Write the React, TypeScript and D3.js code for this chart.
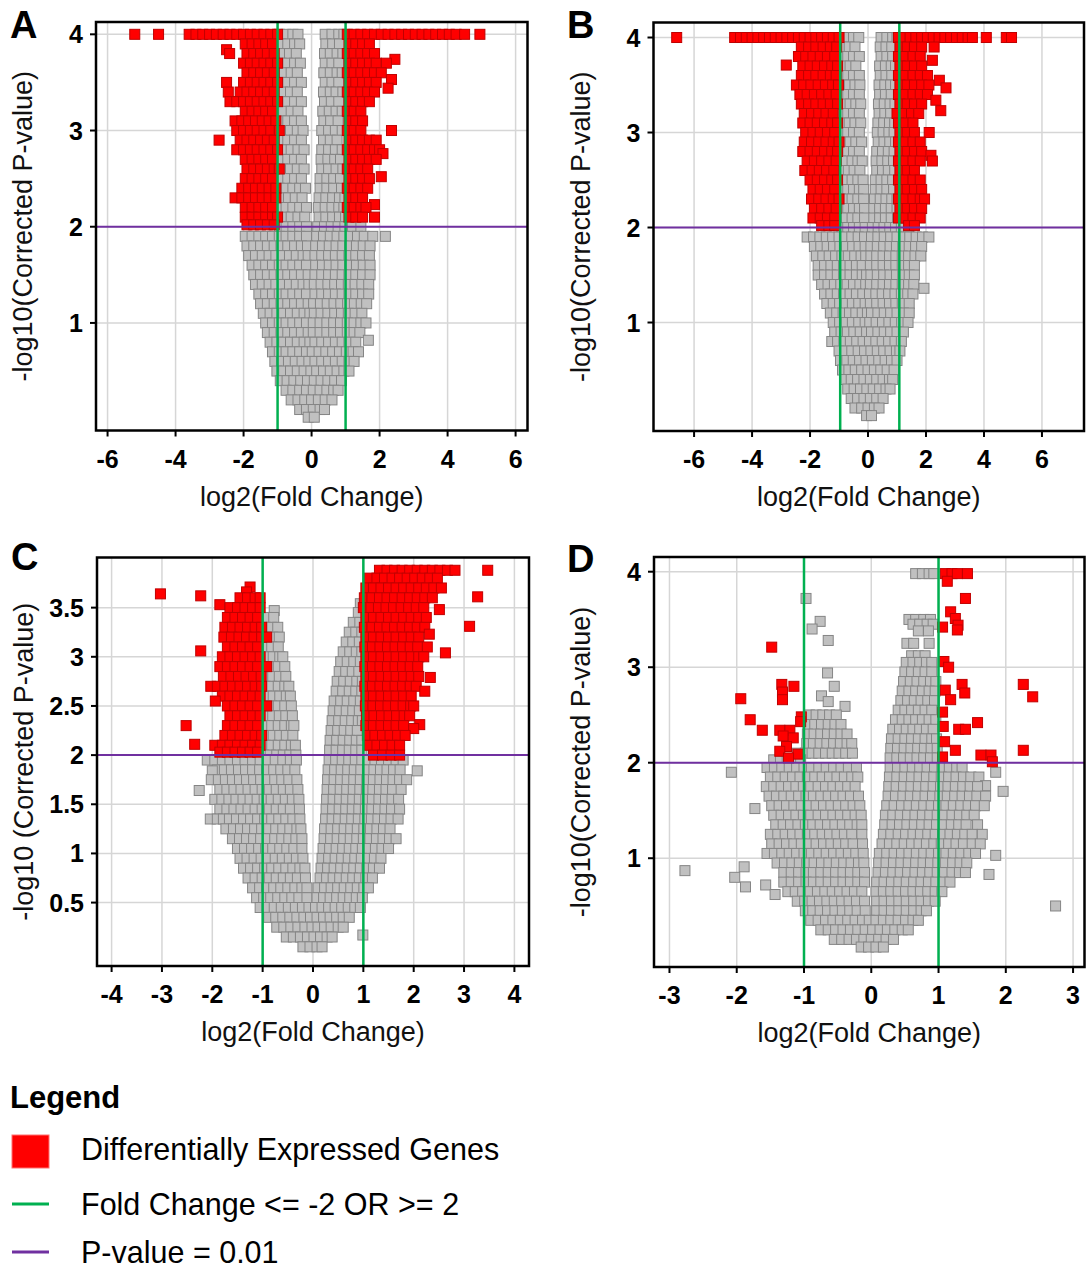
import * as d3 from "d3";

// each row: [y, x1, x2, ...]
type Row = number[];

const grayA: Row[] = [
  [4.0, -0.95, -0.75, -0.55, -0.4, 0.4, 0.6, 0.8, 0.95],
  [3.9, -0.9, -0.7, -0.5, -0.35, 0.42, 0.62, 0.82],
  [3.8, -0.85, -0.65, -0.45, 0.38, 0.55, 0.75, 0.92],
  [3.7, -0.9, -0.7, -0.5, -0.33, 0.4, 0.6, 0.8],
  [3.6, -0.8, -0.6, -0.42, 0.36, 0.55, 0.75, 0.9],
  [3.5, -0.9, -0.7, -0.5, -0.3, 0.4, 0.6, 0.8],
  [3.4, -0.85, -0.62, -0.42, 0.35, 0.55, 0.72, 0.92],
  [3.3, -0.9, -0.7, -0.5, -0.3, 0.38, 0.58, 0.8],
  [3.2, -0.82, -0.6, -0.4, 0.33, 0.52, 0.72, 0.9],
  [3.1, -0.9, -0.7, -0.5, -0.3, 0.36, 0.56, 0.78],
  [3.0, -0.85, -0.62, -0.42, -0.25, 0.3, 0.5, 0.7, 0.9],
  [2.9, -0.9, -0.7, -0.5, -0.3, 0.35, 0.55, 0.75],
  [2.8, -0.82, -0.6, -0.4, -0.22, 0.3, 0.5, 0.7, 0.9],
  [2.7, -0.92, -0.7, -0.5, -0.3, 0.28, 0.48, 0.68, 0.85],
  [2.6, -0.85, -0.62, -0.42, -0.22, 0.3, 0.5, 0.72, 0.92],
  [2.5, -0.9, -0.7, -0.5, -0.3, 0.25, 0.45, 0.65, 0.85],
  [2.4, -0.95, -0.75, -0.55, -0.35, -0.18, 0.25, 0.45, 0.65, 0.88],
  [2.3, -0.88, -0.68, -0.48, -0.28, 0.22, 0.42, 0.62, 0.82, 0.98],
  [2.2, -0.95, -0.75, -0.55, -0.35, -0.15, 0.2, 0.4, 0.6, 0.8, 0.95],
  [2.1, -1.0, -0.8, -0.6, -0.4, -0.2, 0.22, 0.42, 0.62, 0.82, 1.0],
  [2.0, -0.95, -0.75, -0.55, -0.35, -0.15, 0.18, 0.38, 0.58, 0.78, 0.98, 1.2, 1.45],
  [1.9, -1.95, -1.75, -1.55, -1.35, -1.15, -0.95, -0.75, -0.55, -0.35, -0.15, 0.15, 0.35, 0.55, 0.75, 0.95, 1.15, 1.35, 1.55, 1.8, 2.17],
  [1.8, -1.9, -1.7, -1.5, -1.3, -1.1, -0.9, -0.7, -0.5, -0.3, -0.12, 0.12, 0.32, 0.52, 0.72, 0.92, 1.12, 1.32, 1.52, 1.72],
  [1.7, -1.85, -1.65, -1.45, -1.25, -1.05, -0.85, -0.65, -0.45, -0.25, -0.1, 0.1, 0.3, 0.5, 0.7, 0.9, 1.1, 1.3, 1.5, 1.7],
  [1.6, -1.75, -1.55, -1.35, -1.15, -0.95, -0.75, -0.55, -0.35, -0.15, 0.12, 0.32, 0.52, 0.72, 0.92, 1.12, 1.32, 1.52, 1.72],
  [1.5, -1.7, -1.5, -1.3, -1.1, -0.9, -0.7, -0.5, -0.3, -0.1, 0.1, 0.3, 0.5, 0.7, 0.9, 1.1, 1.3, 1.5, 1.72],
  [1.4, -1.65, -1.45, -1.25, -1.05, -0.85, -0.65, -0.45, -0.25, -0.08, 0.08, 0.28, 0.48, 0.68, 0.88, 1.08, 1.28, 1.48, 1.68],
  [1.3, -1.55, -1.35, -1.15, -0.95, -0.75, -0.55, -0.35, -0.15, 0.1, 0.3, 0.5, 0.7, 0.9, 1.1, 1.3, 1.5, 1.68],
  [1.2, -1.5, -1.3, -1.1, -0.9, -0.7, -0.5, -0.3, -0.1, 0.06, 0.26, 0.46, 0.66, 0.86, 1.06, 1.26, 1.46, 1.62],
  [1.1, -1.42, -1.22, -1.02, -0.82, -0.62, -0.42, -0.22, -0.05, 0.08, 0.28, 0.48, 0.68, 0.88, 1.08, 1.28, 1.48],
  [1.0, -1.35, -1.15, -0.95, -0.75, -0.55, -0.35, -0.15, 0.05, 0.25, 0.45, 0.65, 0.85, 1.05, 1.25, 1.45, 1.6],
  [0.9, -1.3, -1.1, -0.9, -0.7, -0.5, -0.3, -0.1, 0.05, 0.25, 0.45, 0.65, 0.85, 1.05, 1.25, 1.42],
  [0.82, 1.67],
  [0.8, -1.22, -1.02, -0.82, -0.62, -0.42, -0.22, -0.05, 0.1, 0.3, 0.5, 0.7, 0.9, 1.1, 1.3],
  [0.7, -1.15, -0.95, -0.75, -0.55, -0.35, -0.15, 0.02, 0.22, 0.42, 0.62, 0.82, 1.02, 1.22, 1.38],
  [0.6, -1.08, -0.88, -0.68, -0.48, -0.28, -0.08, 0.1, 0.3, 0.5, 0.7, 0.9, 1.1, 1.25],
  [0.5, -1.02, -0.82, -0.62, -0.42, -0.22, -0.02, 0.15, 0.35, 0.55, 0.75, 0.95, 1.1],
  [0.4, -0.92, -0.72, -0.52, -0.32, -0.12, 0.08, 0.28, 0.48, 0.68, 0.88],
  [0.3, -0.75, -0.55, -0.35, -0.15, 0.05, 0.25, 0.45, 0.65, 0.78],
  [0.2, -0.6, -0.4, -0.2, 0.0, 0.2, 0.4, 0.6],
  [0.1, -0.35, -0.15, 0.05, 0.25, 0.38],
  [0.02, -0.1, 0.08],
];

const redA: Row[] = [
  [4.0, -5.2, -4.5, -3.6, -3.4, -3.2, -3.0, -2.8, -2.6, -2.4, -2.2, -2.0, -1.8, -1.6, -1.4, -1.2, -1.0,
    1.05, 1.25, 1.45, 1.65, 1.85, 2.05, 2.25, 2.45, 2.65, 2.85, 3.05, 3.25, 3.45, 3.65, 3.85, 4.05, 4.25, 4.5, 4.95],
  [3.9, -1.95, -1.75, -1.55, -1.35, -1.15, 1.1, 1.3, 1.5, 1.7],
  [3.84, -2.5],
  [3.8, -2.41, -1.9, -1.7, -1.5, -1.3, -1.1, 1.05, 1.25, 1.45, 1.65, 1.85],
  [3.74, 2.45],
  [3.7, -2.0, -1.8, -1.6, -1.4, -1.2, -1.0, 1.1, 1.3, 1.5, 1.7, 1.9, 2.2],
  [3.6, -1.9, -1.7, -1.5, -1.3, -1.1, 1.05, 1.25, 1.45, 1.65, 1.85, 2.05],
  [3.53, 2.35],
  [3.5, -2.5, -2.0, -1.8, -1.6, -1.4, -1.2, -1.0, 1.1, 1.3, 1.5, 1.7, 1.9],
  [3.44, 2.25],
  [3.4, -2.45, -2.1, -1.9, -1.7, -1.5, -1.3, -1.1, 1.05, 1.25, 1.45, 1.65, 1.85],
  [3.3, -2.4, -2.2, -2.0, -1.8, -1.6, -1.4, -1.2, -1.0, 1.1, 1.3, 1.5, 1.7],
  [3.2, -1.95, -1.75, -1.55, -1.35, -1.15, 1.05, 1.25, 1.45],
  [3.1, -2.25, -2.05, -1.85, -1.65, -1.45, -1.25, -1.05, 1.1, 1.3, 1.5],
  [3.0, -2.2, -2.0, -1.8, -1.6, -1.4, -1.2, -0.95, 1.05, 1.25, 1.45, 2.35],
  [2.9, -2.72, -2.1, -1.9, -1.7, -1.5, -1.3, -1.1, 1.1, 1.3, 1.5, 1.7, 1.9],
  [2.8, -2.2, -2.0, -1.8, -1.6, -1.4, -1.2, -1.0, 1.05, 1.25, 1.45, 1.65, 1.85, 2.0],
  [2.76, 2.1],
  [2.7, -1.95, -1.75, -1.55, -1.35, -1.15, 1.1, 1.3, 1.5, 1.7, 1.9],
  [2.6, -1.9, -1.7, -1.5, -1.3, -1.1, -0.95, 1.05, 1.25, 1.45, 1.65],
  [2.52, 2.05],
  [2.5, -1.95, -1.75, -1.55, -1.35, -1.15, 1.1, 1.3, 1.5, 1.7],
  [2.4, -2.05, -1.85, -1.65, -1.45, -1.25, -1.05, 1.05, 1.25, 1.45, 1.65],
  [2.3, -2.25, -2.05, -1.85, -1.65, -1.45, -1.25, -1.05, 1.1, 1.3, 1.5],
  [2.23, 1.85],
  [2.2, -1.95, -1.75, -1.55, -1.35, -1.15, 1.05, 1.25, 1.45, 1.6],
  [2.1, -1.95, -1.75, -1.55, -1.35, -1.15, -1.0, 1.1, 1.3, 1.5, 1.85],
  [2.02, -1.9, -1.7, -1.5, -1.3, -1.1],
];

const grayB: Row[] = [
  [4.0, -0.9, -0.7, -0.5, -0.32, 0.45, 0.65, 0.85, 1.0],
  [3.9, -0.85, -0.65, -0.45, 0.42, 0.62, 0.82],
  [3.8, -0.9, -0.7, -0.5, -0.3, 0.45, 0.65, 0.85],
  [3.7, -0.82, -0.62, -0.42, 0.4, 0.6, 0.8, 0.95],
  [3.6, -0.9, -0.7, -0.5, -0.3, 0.42, 0.62, 0.82],
  [3.5, -0.85, -0.65, -0.45, -0.28, 0.38, 0.58, 0.78, 0.95],
  [3.4, -0.9, -0.7, -0.5, -0.3, 0.4, 0.6, 0.8],
  [3.3, -0.82, -0.62, -0.42, -0.25, 0.36, 0.56, 0.76, 0.93],
  [3.2, -0.9, -0.7, -0.5, -0.3, 0.38, 0.58, 0.78],
  [3.1, -0.85, -0.65, -0.45, -0.25, 0.34, 0.54, 0.74, 0.92],
  [3.0, -0.9, -0.7, -0.5, -0.3, 0.32, 0.52, 0.72, 0.9],
  [2.9, -0.82, -0.62, -0.42, -0.22, 0.35, 0.55, 0.75, 0.95],
  [2.8, -0.9, -0.7, -0.5, -0.3, 0.3, 0.5, 0.7, 0.9],
  [2.7, -0.95, -0.75, -0.55, -0.35, -0.2, 0.28, 0.48, 0.68, 0.88],
  [2.6, -0.88, -0.68, -0.48, -0.28, 0.3, 0.5, 0.7, 0.92],
  [2.5, -0.95, -0.75, -0.55, -0.35, -0.17, 0.25, 0.45, 0.65, 0.85],
  [2.4, -0.9, -0.7, -0.5, -0.3, -0.15, 0.25, 0.45, 0.65, 0.88],
  [2.3, -0.95, -0.75, -0.55, -0.35, -0.15, 0.22, 0.42, 0.62, 0.82, 1.0],
  [2.2, -0.9, -0.7, -0.5, -0.3, -0.12, 0.2, 0.4, 0.6, 0.8, 1.0],
  [2.1, -0.95, -0.75, -0.55, -0.35, -0.12, 0.2, 0.4, 0.6, 0.8, 1.02],
  [2.0, -0.9, -0.7, -0.5, -0.3, -0.1, 0.15, 0.35, 0.55, 0.75, 0.95, 1.15, 1.4],
  [1.9, -2.1, -1.88, -1.66, -1.44, -1.22, -1.0, -0.78, -0.56, -0.34, -0.12, 0.12, 0.34, 0.56, 0.78, 1.0, 1.22, 1.44, 1.66, 1.88, 2.1],
  [1.8, -1.85, -1.63, -1.41, -1.19, -0.97, -0.75, -0.53, -0.31, -0.1, 0.1, 0.32, 0.54, 0.76, 0.98, 1.2, 1.42, 1.64, 1.85],
  [1.7, -1.78, -1.56, -1.34, -1.12, -0.9, -0.68, -0.46, -0.24, -0.08, 0.1, 0.3, 0.52, 0.74, 0.96, 1.18, 1.4, 1.62, 1.82],
  [1.6, -1.72, -1.5, -1.28, -1.06, -0.84, -0.62, -0.4, -0.2, 0.08, 0.3, 0.52, 0.74, 0.96, 1.18, 1.4, 1.6],
  [1.5, -1.72, -1.5, -1.28, -1.06, -0.84, -0.62, -0.4, -0.2, -0.05, 0.1, 0.32, 0.54, 0.76, 0.98, 1.2, 1.42, 1.6],
  [1.4, -1.6, -1.38, -1.16, -0.94, -0.72, -0.5, -0.28, -0.08, 0.08, 0.3, 0.52, 0.74, 0.96, 1.18, 1.4, 1.58],
  [1.36, 1.93],
  [1.3, -1.5, -1.28, -1.06, -0.84, -0.62, -0.4, -0.18, 0.05, 0.27, 0.49, 0.71, 0.93, 1.15, 1.37, 1.55],
  [1.2, -1.42, -1.2, -0.98, -0.76, -0.54, -0.32, -0.1, 0.08, 0.3, 0.52, 0.74, 0.96, 1.18, 1.42],
  [1.1, -1.3, -1.08, -0.86, -0.64, -0.42, -0.2, -0.02, 0.12, 0.34, 0.56, 0.78, 1.0, 1.22, 1.42],
  [1.0, -1.2, -0.98, -0.76, -0.54, -0.32, -0.1, 0.06, 0.28, 0.5, 0.72, 0.94, 1.16, 1.38],
  [0.9, -1.15, -0.93, -0.71, -0.49, -0.27, -0.05, 0.12, 0.34, 0.56, 0.78, 1.0, 1.22],
  [0.8, -1.25, -1.05, -0.83, -0.61, -0.39, -0.17, 0.05, 0.27, 0.49, 0.71, 0.93, 1.15],
  [0.7, -1.0, -0.78, -0.56, -0.34, -0.12, 0.1, 0.32, 0.54, 0.76, 0.98, 1.1],
  [0.6, -0.95, -0.73, -0.51, -0.29, -0.07, 0.15, 0.37, 0.59, 0.81, 1.0],
  [0.5, -0.88, -0.66, -0.44, -0.22, 0.0, 0.22, 0.44, 0.66, 0.9],
  [0.4, -0.8, -0.58, -0.36, -0.14, 0.08, 0.3, 0.52, 0.74, 0.85],
  [0.3, -0.7, -0.48, -0.26, -0.04, 0.18, 0.4, 0.62, 0.76],
  [0.2, -0.58, -0.36, -0.14, 0.08, 0.3, 0.52],
  [0.1, -0.45, -0.22, 0.0, 0.22, 0.38],
  [0.02, -0.05, 0.12],
];

const redB: Row[] = [
  [4.0, -6.6, -4.6, -4.4, -4.2, -4.0, -3.8, -3.6, -3.4, -3.2, -3.0, -2.8, -2.6, -2.4, -2.2, -2.0, -1.8, -1.6, -1.4, -1.2, -1.0,
    1.05, 1.25, 1.45, 1.65, 1.85, 2.05, 2.25, 2.45, 2.65, 2.85, 3.05, 3.25, 3.45, 3.6, 4.08, 4.77, 4.95],
  [3.9, -2.3, -2.05, -1.8, -1.55, -1.3, -1.08, 1.1, 1.35, 1.6, 1.85, 2.28],
  [3.8, -2.4, -2.15, -1.9, -1.65, -1.4, -1.15, 1.05, 1.3, 1.55, 1.8],
  [3.76, 2.22],
  [3.71, -2.82],
  [3.7, -2.25, -2.0, -1.75, -1.5, -1.25, -1.05, 1.1, 1.35, 1.6, 1.85],
  [3.6, -2.3, -2.05, -1.8, -1.55, -1.3, -1.1, 1.05, 1.3, 1.55, 1.8, 2.05],
  [3.55, 2.46],
  [3.5, -2.47, -2.22, -1.97, -1.72, -1.47, -1.22, -1.02, 1.1, 1.35, 1.6, 1.85, 2.1],
  [3.47, 2.69],
  [3.4, -2.35, -2.1, -1.85, -1.6, -1.35, -1.1, 1.05, 1.3, 1.55, 1.8, 2.05],
  [3.34, 2.34],
  [3.3, -2.3, -2.05, -1.8, -1.55, -1.3, -1.05, 1.1, 1.35, 1.6, 1.85],
  [3.23, 2.51],
  [3.2, -2.2, -1.95, -1.7, -1.45, -1.2, 1.0, 1.25, 1.5, 1.75],
  [3.1, -2.25, -2.0, -1.75, -1.5, -1.25, -1.05, 1.05, 1.3, 1.55],
  [3.0, -2.15, -1.9, -1.65, -1.4, -1.15, 1.1, 1.35, 1.6, 2.11],
  [2.9, -2.2, -1.95, -1.7, -1.45, -1.2, -1.0, 1.05, 1.3, 1.55, 1.8],
  [2.8, -2.25, -2.0, -1.75, -1.5, -1.25, -1.05, 1.1, 1.35, 1.6, 1.85],
  [2.76, 2.17],
  [2.7, -2.1, -1.85, -1.6, -1.35, -1.1, 1.05, 1.3, 1.55, 1.8, 2.22],
  [2.6, -2.18, -1.93, -1.68, -1.43, -1.18, 1.1, 1.35, 1.6],
  [2.5, -2.0, -1.75, -1.5, -1.25, -1.05, 1.05, 1.3, 1.55, 1.8],
  [2.4, -1.9, -1.65, -1.4, -1.15, 1.1, 1.35, 1.6, 1.85],
  [2.3, -1.95, -1.7, -1.45, -1.2, -1.0, 1.05, 1.3, 1.55, 1.8, 1.95],
  [2.2, -1.85, -1.6, -1.35, -1.1, 1.1, 1.35, 1.6, 1.85],
  [2.1, -1.9, -1.65, -1.4, -1.15, 1.05, 1.3, 1.55, 1.8],
  [2.02, -1.6, -1.35, -1.15, 1.4, 1.6],
];

const grayC: Row[] = [
  [3.54, 0.94], [3.47, -0.77], [3.45, 0.9],
  [3.4, -0.92, -0.78],
  [3.35, 0.8, 0.93],
  [3.3, -0.95, -0.82, -0.7],
  [3.25, 0.72, 0.85, 0.97],
  [3.2, -0.93, -0.8, -0.67],
  [3.15, 0.66, 0.79, 0.92],
  [3.1, -0.95, -0.82, -0.69],
  [3.05, 0.6, 0.73, 0.86, 0.97],
  [3.0, -0.92, -0.79, -0.66, -0.6],
  [2.95, 0.55, 0.68, 0.81, 0.94],
  [2.9, -0.95, -0.82, -0.69, -0.56],
  [2.85, 0.52, 0.65, 0.78, 0.91],
  [2.8, -0.93, -0.8, -0.67, -0.54],
  [2.75, 0.48, 0.61, 0.74, 0.87, 0.98],
  [2.7, -0.95, -0.82, -0.69, -0.56, -0.48],
  [2.65, 0.46, 0.59, 0.72, 0.85, 0.97],
  [2.6, -0.92, -0.79, -0.66, -0.53, -0.45],
  [2.55, 0.42, 0.55, 0.68, 0.81, 0.94],
  [2.5, -0.95, -0.82, -0.69, -0.56, -0.43],
  [2.45, 0.4, 0.53, 0.66, 0.79, 0.92],
  [2.4, -0.93, -0.8, -0.67, -0.54, -0.41],
  [2.35, 0.38, 0.51, 0.64, 0.77, 0.9, 0.98],
  [2.3, -0.95, -0.82, -0.69, -0.56, -0.43, -0.38],
  [2.25, 0.36, 0.49, 0.62, 0.75, 0.88],
  [2.2, -0.92, -0.79, -0.66, -0.53, -0.4],
  [2.15, 0.34, 0.47, 0.6, 0.73, 0.86, 0.97],
  [2.1, -0.95, -0.82, -0.69, -0.56, -0.43, -0.35],
  [2.05, 0.33, 0.46, 0.59, 0.72, 0.85, 0.97],
  [2.0, -0.98, -0.85, -0.72, -0.59, -0.46, -0.34],
  [1.95, -2.1, -1.95, -1.8, -1.65, -1.5, -1.35, -1.2, -1.05, -0.9, -0.75, -0.6, -0.45, -0.33,
    0.32, 0.45, 0.58, 0.71, 0.84, 0.97, 1.1, 1.23, 1.36, 1.5, 1.65, 1.79],
  [1.85, -1.9, -1.76, -1.62, -1.48, -1.34, -1.2, -1.06, -0.92, -0.78, -0.64, -0.5, -0.36,
    0.3, 0.43, 0.56, 0.69, 0.82, 0.95, 1.08, 1.21, 1.34, 1.47, 1.6, 1.73],
  [1.84, -2.0, 2.07],
  [1.75, -2.02, -1.88, -1.74, -1.6, -1.46, -1.32, -1.18, -1.04, -0.9, -0.76, -0.62, -0.48, -0.32,
    0.29, 0.42, 0.55, 0.68, 0.81, 0.94, 1.07, 1.2, 1.33, 1.46, 1.59, 1.72, 1.86],
  [1.65, -1.85, -1.71, -1.57, -1.43, -1.29, -1.15, -1.01, -0.87, -0.73, -0.59, -0.45, -0.3,
    0.28, 0.41, 0.54, 0.67, 0.8, 0.93, 1.06, 1.19, 1.32, 1.45, 1.58, 1.75],
  [1.64, -2.26],
  [1.55, -1.95, -1.81, -1.67, -1.53, -1.39, -1.25, -1.11, -0.97, -0.83, -0.69, -0.55, -0.41, -0.28,
    0.27, 0.4, 0.53, 0.66, 0.79, 0.92, 1.05, 1.18, 1.31, 1.44, 1.57, 1.7],
  [1.45, -1.85, -1.71, -1.57, -1.43, -1.29, -1.15, -1.01, -0.87, -0.73, -0.59, -0.45, -0.27,
    0.26, 0.39, 0.52, 0.65, 0.78, 0.91, 1.04, 1.17, 1.3, 1.43, 1.56, 1.72],
  [1.35, -2.04, -1.9, -1.78, -1.66, -1.52, -1.38, -1.24, -1.1, -0.96, -0.82, -0.68, -0.54, -0.4, -0.26,
    0.25, 0.38, 0.51, 0.64, 0.77, 0.9, 1.03, 1.16, 1.29, 1.42, 1.55, 1.69],
  [1.25, -1.73, -1.58, -1.44, -1.3, -1.16, -1.02, -0.88, -0.74, -0.6, -0.46, -0.32, -0.24,
    0.23, 0.36, 0.49, 0.62, 0.75, 0.88, 1.01, 1.14, 1.27, 1.4, 1.53],
  [1.15, -1.6, -1.46, -1.32, -1.18, -1.04, -0.9, -0.76, -0.62, -0.48, -0.34, -0.22,
    0.22, 0.35, 0.48, 0.61, 0.74, 0.87, 1.0, 1.13, 1.26, 1.39, 1.52, 1.65],
  [1.05, -1.5, -1.36, -1.22, -1.08, -0.94, -0.8, -0.66, -0.52, -0.38, -0.22,
    0.2, 0.33, 0.46, 0.59, 0.72, 0.85, 0.98, 1.11, 1.24, 1.37, 1.5],
  [0.95, -1.45, -1.31, -1.17, -1.03, -0.89, -0.75, -0.61, -0.47, -0.33, -0.2,
    0.18, 0.31, 0.44, 0.57, 0.7, 0.83, 0.96, 1.09, 1.22, 1.35],
  [0.85, -1.38, -1.24, -1.1, -0.96, -0.82, -0.68, -0.54, -0.4, -0.26, -0.16,
    0.16, 0.29, 0.42, 0.55, 0.68, 0.81, 0.94, 1.07, 1.2, 1.32],
  [0.75, -1.29, -1.15, -1.01, -0.87, -0.73, -0.59, -0.45, -0.31, -0.15,
    0.14, 0.27, 0.4, 0.53, 0.66, 0.79, 0.92, 1.05, 1.18],
  [0.65, -1.2, -1.06, -0.92, -0.78, -0.64, -0.5, -0.36, -0.22, -0.12,
    0.1, 0.23, 0.36, 0.49, 0.62, 0.75, 0.88, 1.01, 1.1],
  [0.55, -1.12, -0.98, -0.84, -0.7, -0.56, -0.42, -0.28, -0.12,
    0.08, 0.21, 0.34, 0.47, 0.6, 0.73, 0.86, 0.98],
  [0.45, -1.05, -0.91, -0.77, -0.63, -0.49, -0.35, -0.21, -0.08,
    0.05, 0.18, 0.31, 0.44, 0.57, 0.7, 0.83, 0.94],
  [0.35, -0.88, -0.74, -0.6, -0.46, -0.32, -0.18, -0.05, 0.08, 0.21, 0.34, 0.47, 0.6, 0.72],
  [0.25, -0.72, -0.58, -0.44, -0.3, -0.16, -0.02, 0.1, 0.23, 0.36, 0.5, 0.6],
  [0.17, 0.99],
  [0.15, -0.53, -0.39, -0.25, -0.11, 0.02, 0.15, 0.28, 0.38],
  [0.05, -0.2, -0.06, 0.08, 0.18],
];

const redC: Row[] = [
  [3.88, 1.32, 1.47, 1.62, 1.77, 1.92, 2.07, 2.22, 2.37, 2.52, 2.67, 2.82, 3.47],
  [3.8, 1.12, 1.27, 1.42, 1.57, 1.72, 1.87, 2.02, 2.17, 2.32, 2.47],
  [3.71, -1.25],
  [3.7, 1.05, 1.2, 1.35, 1.5, 1.65, 1.8, 1.95, 2.1, 2.25, 2.4, 2.55],
  [3.66, -1.32],
  [3.64, -3.03],
  [3.62, -2.23],
  [3.61, 3.27],
  [3.6, -1.45, -1.3, -1.15, -1.05, 1.02, 1.17, 1.32, 1.47, 1.62, 1.77, 1.92, 2.07, 2.22, 2.37],
  [3.53, -1.85],
  [3.5, -1.65, -1.5, -1.35, -1.2, -1.05, 1.0, 1.15, 1.3, 1.45, 1.6, 1.75, 1.9, 2.05, 2.2],
  [3.48, 2.51],
  [3.4, -1.7, -1.55, -1.4, -1.25, -1.1, 1.05, 1.2, 1.35, 1.5, 1.65, 1.8, 1.95, 2.1, 2.25],
  [3.31, 3.11],
  [3.3, -1.75, -1.6, -1.45, -1.3, -1.15, -1.02, 1.02, 1.17, 1.32, 1.47, 1.62, 1.77, 1.92, 2.07, 2.22],
  [3.23, 2.31],
  [3.2, -1.77, -1.62, -1.47, -1.32, -1.17, -1.02, -0.92, 1.05, 1.2, 1.35, 1.5, 1.65, 1.8, 1.95, 2.1],
  [3.1, -1.7, -1.55, -1.4, -1.25, -1.1, 1.03, 1.18, 1.33, 1.48, 1.63, 1.78, 1.93, 2.08, 2.27],
  [3.06, -2.23],
  [3.04, 2.63],
  [3.0, -1.8, -1.65, -1.5, -1.35, -1.2, -1.05, 1.05, 1.2, 1.35, 1.5, 1.65, 1.8, 1.95, 2.1, 2.2],
  [2.9, -1.85, -1.7, -1.55, -1.4, -1.25, -1.1, -0.92, 1.03, 1.18, 1.33, 1.48, 1.63, 1.78, 1.93, 2.08],
  [2.8, -1.78, -1.63, -1.48, -1.33, -1.18, -1.03, 1.05, 1.2, 1.35, 1.5, 1.65, 1.8, 1.95, 2.1],
  [2.79, 2.33],
  [2.7, -2.03, -1.9, -1.75, -1.6, -1.45, -1.3, -1.15, -1.02, 1.03, 1.18, 1.33, 1.48, 1.63, 1.78, 1.93, 2.05],
  [2.65, 2.22],
  [2.6, -1.8, -1.65, -1.5, -1.35, -1.2, -1.05, 1.05, 1.2, 1.35, 1.5, 1.65, 1.8, 1.95],
  [2.55, -1.94],
  [2.5, -1.7, -1.55, -1.4, -1.25, -1.1, -0.92, 1.04, 1.19, 1.34, 1.49, 1.64, 1.79, 1.94, 2.0],
  [2.4, -1.65, -1.5, -1.35, -1.2, -1.05, 1.06, 1.21, 1.36, 1.51, 1.66, 1.81, 1.92],
  [2.31, 2.12],
  [2.3, -2.52, -1.7, -1.55, -1.4, -1.25, -1.1, 1.05, 1.2, 1.35, 1.5, 1.65, 1.8],
  [2.27, 2.0],
  [2.2, -1.75, -1.6, -1.45, -1.3, -1.15, -1.02, 1.08, 1.23, 1.38, 1.53, 1.68, 1.83],
  [2.11, -2.35],
  [2.1, -1.95, -1.8, -1.65, -1.5, -1.35, -1.2, -1.05, 1.12, 1.27, 1.42, 1.57, 1.72],
  [2.03, -1.85, -1.7, -1.55, -1.4, -1.25, -1.1],
  [2.0, 1.2, 1.38, 1.55, 1.72],
];

const grayD: Row[] = [
  [3.98, 0.66, 0.76, 0.86, 0.93],
  [3.72, -0.97],
  [3.5, 0.56, 0.66, 0.78, 0.88],
  [3.48, -0.76],
  [3.45, 0.62, 0.72, 0.83, 0.92],
  [3.4, -0.88],
  [3.38, 0.7, 0.85],
  [3.28, -0.64],
  [3.25, 0.53, 0.63, 0.86],
  [3.12, 0.6, 0.7, 0.8],
  [3.05, 0.52, 0.62, 0.72, 0.82, 0.9],
  [2.95, 0.5, 0.6, 0.7, 0.8, 0.9],
  [2.94, -0.65],
  [2.85, 0.48, 0.58, 0.68, 0.78, 0.88, 0.96],
  [2.8, -0.55],
  [2.75, 0.46, 0.56, 0.66, 0.76, 0.86, 0.95],
  [2.7, -0.74],
  [2.65, 0.44, 0.54, 0.64, 0.74, 0.84, 0.94],
  [2.64, -0.64],
  [2.59, -0.39],
  [2.55, 0.4, 0.5, 0.6, 0.7, 0.8, 0.9],
  [2.5, -0.92, -0.82, -0.72, -0.62, -0.52],
  [2.45, 0.36, 0.46, 0.56, 0.66, 0.76, 0.86, 0.96],
  [2.4, -0.94, -0.84, -0.74, -0.64, -0.54, -0.45],
  [2.35, 0.32, 0.42, 0.52, 0.62, 0.72, 0.82, 0.92],
  [2.3, -0.95, -0.85, -0.75, -0.65, -0.55, -0.45, -0.36],
  [2.25, 0.3, 0.4, 0.5, 0.6, 0.7, 0.8, 0.9, 0.97],
  [2.2, -0.96, -0.86, -0.76, -0.66, -0.56, -0.46, -0.36, -0.29],
  [2.15, 0.29, 0.39, 0.49, 0.59, 0.69, 0.79, 0.89, 0.98],
  [2.1, -1.1, -0.98, -0.88, -0.78, -0.68, -0.58, -0.48, -0.38, -0.28],
  [2.05, 0.28, 0.38, 0.48, 0.58, 0.68, 0.78, 0.88, 0.98],
  [2.03, -1.45, -1.35, -1.25, -1.15, -1.05],
  [1.95, -1.55, -1.44, -1.33, -1.22, -1.11, -1.0, -0.89, -0.78, -0.67, -0.56, -0.45, -0.34, -0.22,
    0.28, 0.39, 0.5, 0.61, 0.72, 0.83, 0.94, 1.05, 1.16, 1.27, 1.35],
  [1.9, -2.08, 1.85],
  [1.85, -1.5, -1.39, -1.28, -1.17, -1.06, -0.95, -0.84, -0.73, -0.62, -0.51, -0.4, -0.29, -0.2,
    0.27, 0.38, 0.49, 0.6, 0.71, 0.82, 0.93, 1.04, 1.15, 1.26, 1.37, 1.48, 1.6],
  [1.76, 1.7],
  [1.75, -1.56, -1.45, -1.34, -1.23, -1.12, -1.01, -0.9, -0.79, -0.68, -0.57, -0.46, -0.35, -0.24,
    0.26, 0.37, 0.48, 0.59, 0.7, 0.81, 0.92, 1.03, 1.14, 1.25, 1.36, 1.47, 1.58],
  [1.7, 1.96],
  [1.65, -1.52, -1.41, -1.3, -1.19, -1.08, -0.97, -0.86, -0.75, -0.64, -0.53, -0.42, -0.31, -0.19,
    0.25, 0.36, 0.47, 0.58, 0.69, 0.8, 0.91, 1.02, 1.13, 1.24, 1.35, 1.46, 1.57, 1.7],
  [1.55, -1.48, -1.37, -1.26, -1.15, -1.04, -0.93, -0.82, -0.71, -0.6, -0.49, -0.38, -0.27, -0.17,
    0.23, 0.34, 0.45, 0.56, 0.67, 0.78, 0.89, 1.0, 1.11, 1.22, 1.33, 1.44, 1.55, 1.68],
  [1.52, -1.73],
  [1.45, -1.45, -1.34, -1.23, -1.12, -1.01, -0.9, -0.79, -0.68, -0.57, -0.46, -0.35, -0.24, -0.15,
    0.21, 0.32, 0.43, 0.54, 0.65, 0.76, 0.87, 0.98, 1.09, 1.2, 1.31, 1.42, 1.53],
  [1.35, -1.42, -1.31, -1.2, -1.09, -0.98, -0.87, -0.76, -0.65, -0.54, -0.43, -0.32, -0.21, -0.14,
    0.2, 0.31, 0.42, 0.53, 0.64, 0.75, 0.86, 0.97, 1.08, 1.19, 1.3, 1.41, 1.58],
  [1.25, -1.5, -1.39, -1.28, -1.17, -1.06, -0.95, -0.84, -0.73, -0.62, -0.51, -0.4, -0.29, -0.14,
    0.18, 0.29, 0.4, 0.51, 0.62, 0.73, 0.84, 0.95, 1.06, 1.17, 1.28, 1.39, 1.5, 1.65],
  [1.15, -1.48, -1.37, -1.26, -1.15, -1.04, -0.93, -0.82, -0.71, -0.6, -0.49, -0.38, -0.27, -0.13,
    0.16, 0.27, 0.38, 0.49, 0.6, 0.71, 0.82, 0.93, 1.04, 1.15, 1.26, 1.37, 1.5, 1.62],
  [1.05, -1.55, -1.44, -1.33, -1.22, -1.11, -1.0, -0.89, -0.78, -0.67, -0.56, -0.45, -0.34, -0.23, -0.12,
    0.12, 0.23, 0.34, 0.45, 0.56, 0.67, 0.78, 0.89, 1.0, 1.11, 1.22, 1.33, 1.45, 1.55],
  [1.03, 1.85],
  [0.95, -1.4, -1.29, -1.18, -1.07, -0.96, -0.85, -0.74, -0.63, -0.52, -0.41, -0.3, -0.19, -0.11,
    0.11, 0.22, 0.33, 0.44, 0.55, 0.66, 0.77, 0.88, 0.99, 1.1, 1.21, 1.32, 1.42],
  [0.91, -1.89],
  [0.87, -2.77],
  [0.85, -1.3, -1.19, -1.08, -0.97, -0.86, -0.75, -0.64, -0.53, -0.42, -0.31, -0.2, -0.1,
    0.1, 0.21, 0.32, 0.43, 0.54, 0.65, 0.76, 0.87, 0.98, 1.09, 1.2, 1.31, 1.4],
  [0.83, 1.75],
  [0.8, -2.03],
  [0.75, -1.3, -1.19, -1.08, -0.97, -0.86, -0.75, -0.64, -0.53, -0.42, -0.31, -0.2, -0.1,
    0.08, 0.19, 0.3, 0.41, 0.52, 0.63, 0.74, 0.85, 0.96, 1.07, 1.17],
  [0.72, -1.57],
  [0.7, -1.87],
  [0.65, -1.24, -1.13, -1.02, -0.91, -0.8, -0.69, -0.58, -0.47, -0.36, -0.25, -0.14,
    0.07, 0.18, 0.29, 0.4, 0.51, 0.62, 0.73, 0.84, 0.95, 1.05],
  [0.62, -1.43],
  [0.55, -1.1, -0.99, -0.88, -0.77, -0.66, -0.55, -0.44, -0.33, -0.22, -0.1,
    0.08, 0.19, 0.3, 0.41, 0.52, 0.63, 0.74, 0.85, 0.95],
  [0.5, 2.74],
  [0.45, -0.98, -0.87, -0.76, -0.65, -0.54, -0.43, -0.32, -0.21, -0.09, 0.08, 0.19, 0.3, 0.41, 0.52, 0.63, 0.74, 0.82],
  [0.35, -0.9, -0.79, -0.68, -0.57, -0.46, -0.35, -0.24, -0.13, -0.03, 0.07, 0.18, 0.29, 0.4, 0.51, 0.62, 0.7],
  [0.25, -0.75, -0.64, -0.53, -0.42, -0.31, -0.2, -0.09, 0.02, 0.13, 0.24, 0.35, 0.46, 0.55],
  [0.15, -0.55, -0.44, -0.33, -0.22, -0.11, 0.0, 0.11, 0.22, 0.33],
  [0.07, -0.15, -0.04, 0.07, 0.18],
];

const redD: Row[] = [
  [3.98, 1.1, 1.2, 1.28, 1.43],
  [3.9, 1.13],
  [3.72, 1.4],
  [3.58, 1.18],
  [3.51, 1.25],
  [3.44, 1.29],
  [3.42, 1.06],
  [3.39, 1.28],
  [3.21, -1.48],
  [3.06, 1.08],
  [3.0, 1.15],
  [2.82, -1.33, 1.35, 2.26],
  [2.8, -1.15],
  [2.76, 1.1],
  [2.74, -1.32],
  [2.73, 1.39],
  [2.69, 2.4],
  [2.67, -1.94],
  [2.66, -1.32, 1.18],
  [2.53, 1.06],
  [2.48, -1.04],
  [2.45, -1.8],
  [2.43, -1.05],
  [2.42, 1.58],
  [2.38, 1.07],
  [2.35, 1.3, 1.4],
  [2.34, -1.62, -1.36, -1.21],
  [2.28, -1.31],
  [2.26, -1.16],
  [2.22, 1.09],
  [2.17, -1.26],
  [2.13, 1.25, 2.26],
  [2.12, -1.36],
  [2.09, -1.09],
  [2.08, 1.63, 1.78],
  [2.06, 1.06],
  [2.05, -1.23],
  [2.01, 1.8],
];

const ticksA = [-6, -4, -2, 0, 2, 4, 6];
const ticksB = [-6, -4, -2, 0, 2, 4, 6];
const ticksC = [-4, -3, -2, -1, 0, 1, 2, 3, 4];
const ticksD = [-3, -2, -1, 0, 1, 2, 3];
const yTicksABD = [1, 2, 3, 4];
const yTicksC = [0.5, 1, 1.5, 2, 2.5, 3, 3.5];

const legendItems = ["Differentially Expressed Genes", "Fold Change <= -2 OR >= 2", "P-value = 0.01"];

const FONT = "'Liberation Sans', Arial, sans-serif";
const RED = "#ff0000";
const RED_EDGE = "#c00000";
const GRAY = "#c0c0c0";
const GRAY_EDGE = "#858585";
const GREEN = "#00b050";
const PURPLE = "#7030a0";
const GRID = "#d6d6d6";

const panels = [
  { id: "A", gray: grayA, red: redA, xTicks: ticksA, yTicks: yTicksABD, xDomain: [-6.34, 6.35], yDomain: [-0.118, 4.128],
    left: 96, right: 527.5, top: 22, bottom: 430.5, fc: [-1, 1], yTitle: "-log10(Corrected P-value)", letter: [10, 38] },
  { id: "B", gray: grayB, red: redB, xTicks: ticksB, yTicks: yTicksABD, xDomain: [-7.4, 7.45], yDomain: [-0.142, 4.158],
    left: 653.5, right: 1084, top: 22.5, bottom: 431, fc: [-0.96, 1.08], yTitle: "-log10(Corrected P-value)", letter: [567, 38] },
  { id: "C", gray: grayC, red: redC, xTicks: ticksC, yTicks: yTicksC, xDomain: [-4.29, 4.29], yDomain: [-0.145, 4.01],
    left: 97, right: 529, top: 557.5, bottom: 966, fc: [-1, 1], yTitle: "-log10 (Corrected P-value)", letter: [11, 570] },
  { id: "D", gray: grayD, red: redD, xTicks: ticksD, yTicks: yTicksABD, xDomain: [-3.23, 3.17], yDomain: [-0.139, 4.154],
    left: 654, right: 1084.5, top: 557, bottom: 967, fc: [-1, 1], yTitle: "-log10(Corrected P-value)", letter: [567, 572] },
];

const flat = (rows: Row[]) => rows.flatMap(([y, ...xs]) => xs.map((x) => ({ x, y })));

const SQ = 10;

function Panel({ p }: { p: any }) {
  const x = d3.scaleLinear().domain(p.xDomain).range([p.left, p.right]);
  const y = d3.scaleLinear().domain(p.yDomain).range([p.bottom, p.top]);
  const gray = flat(p.gray);
  const red = flat(p.red);
  const clip = `clip-${p.id}`;
  const cx = (p.left + p.right) / 2;
  const cy = (p.top + p.bottom) / 2;
  return (
    <g>
      <defs>
        <clipPath id={clip}>
          <rect x={p.left} y={p.top} width={p.right - p.left} height={p.bottom - p.top} />
        </clipPath>
      </defs>
      <g stroke={GRID} strokeWidth={1.5}>
        {p.xTicks.map((t: number) => (
          <line key={"gx" + t} x1={x(t)} x2={x(t)} y1={p.top} y2={p.bottom} />
        ))}
        {p.yTicks.map((t: number) => (
          <line key={"gy" + t} x1={p.left} x2={p.right} y1={y(t)} y2={y(t)} />
        ))}
      </g>
      <g clipPath={`url(#${clip})`}>
        <g fill={GRAY} stroke={GRAY_EDGE} strokeWidth={1}>
          {gray.map((d, i) => (
            <rect key={i} x={x(d.x) - SQ / 2} y={y(d.y) - SQ / 2} width={SQ} height={SQ} />
          ))}
        </g>
        <g fill={RED} stroke={RED_EDGE} strokeWidth={1}>
          {red.map((d, i) => (
            <rect key={i} x={x(d.x) - SQ / 2} y={y(d.y) - SQ / 2} width={SQ} height={SQ} />
          ))}
        </g>
        {p.fc.map((v: number) => (
          <line key={"fc" + v} x1={x(v)} x2={x(v)} y1={p.top} y2={p.bottom} stroke={GREEN} strokeWidth={2.5} />
        ))}
        <line x1={p.left} x2={p.right} y1={y(2)} y2={y(2)} stroke={PURPLE} strokeWidth={2} />
      </g>
      <rect x={p.left} y={p.top} width={p.right - p.left} height={p.bottom - p.top} fill="none" stroke="#000" strokeWidth={2.5} />
      <g stroke="#000" strokeWidth={2}>
        {p.xTicks.map((t: number) => (
          <line key={"tx" + t} x1={x(t)} x2={x(t)} y1={p.bottom} y2={p.bottom + 6} />
        ))}
        {p.yTicks.map((t: number) => (
          <line key={"ty" + t} x1={p.left - 6} x2={p.left} y1={y(t)} y2={y(t)} />
        ))}
      </g>
      <g fontFamily={FONT} fontWeight="bold" fontSize={25} fill="#000">
        {p.xTicks.map((t: number) => (
          <text key={"lx" + t} x={x(t)} y={p.bottom + 37} textAnchor="middle">{String(t)}</text>
        ))}
        {p.yTicks.map((t: number) => (
          <text key={"ly" + t} x={p.left - 13} y={y(t) + 9} textAnchor="end">{String(t)}</text>
        ))}
      </g>
      <text x={cx} y={p.bottom + 75} textAnchor="middle" fontFamily={FONT} fontSize={27} fill="#111">
        log2(Fold Change)
      </text>
      <text transform={`translate(${p.left - 64},${cy}) rotate(-90)`} textAnchor="middle" fontFamily={FONT} fontSize={27} fill="#111">
        {p.yTitle}
      </text>
      <text x={p.letter[0]} y={p.letter[1]} fontFamily={FONT} fontWeight="bold" fontSize={38} fill="#000">
        {p.id}
      </text>
    </g>
  );
}

export default function App() {
  return (
    <svg width={1086} height={1270} style={{ position: "absolute", left: 0, top: 0, background: "#fff" }}>
      <rect width={1086} height={1270} fill="#fff" />
      {panels.map((p) => (
        <Panel key={p.id} p={p} />
      ))}
      <g fontFamily={FONT} fill="#000">
        <text x={10} y={1108} fontWeight="bold" fontSize={31}>Legend</text>
        <rect x={12} y={1135} width={37} height={33} fill={RED} stroke="#ff7070" strokeWidth={1} />
        <text x={81} y={1160} fontSize={30.5}>{legendItems[0]}</text>
        <line x1={12} x2={49} y1={1204} y2={1204} stroke={GREEN} strokeWidth={3} />
        <text x={81} y={1215} fontSize={30.5}>{legendItems[1]}</text>
        <line x1={12} x2={49} y1={1252} y2={1252} stroke={PURPLE} strokeWidth={3} />
        <text x={81} y={1263} fontSize={30.5}>{legendItems[2]}</text>
      </g>
    </svg>
  );
}
